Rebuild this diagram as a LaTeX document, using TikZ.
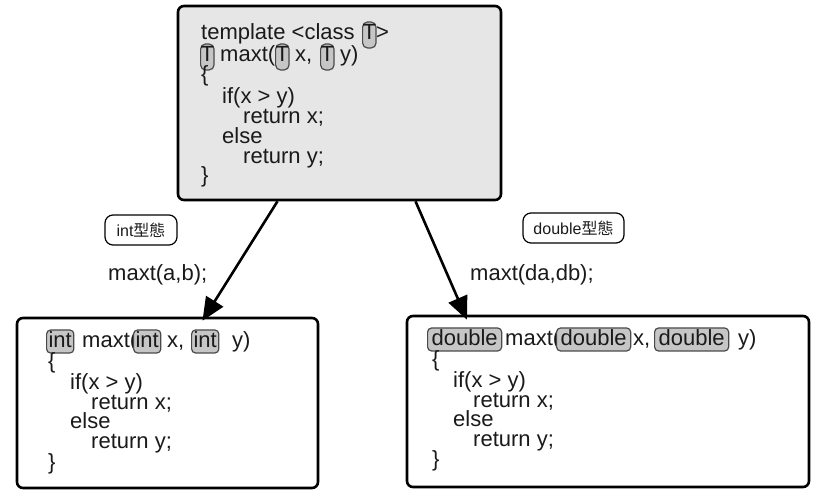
\documentclass[tikz,border=0pt]{standalone}
\usepackage{fontspec}
\setmainfont{Liberation Sans}
\newfontfamily\cjk{Noto Sans CJK TC}
\usepackage{tikz}
\usetikzlibrary{arrows.meta}
\definecolor{panelgray}{HTML}{E6E6E6}
\definecolor{tokgray}{HTML}{C6C6C6}
\definecolor{tokline}{HTML}{4A4A4A}
\definecolor{ink}{HTML}{1A1A1A}
\newcommand{\codefont}{\fontsize{22}{22}\selectfont}
\newcommand{\tagfont}{\fontsize{16}{16}\selectfont}

\begin{document}
\begin{tikzpicture}[x=1pt,y=-1pt,
   panel/.style={draw, line width=2.6pt, rounded corners=6pt, inner sep=0pt},
   code/.style={anchor=base west, inner sep=0pt, text=ink, font=\codefont},
   tybox/.style={code, draw=tokline, fill=tokgray, line width=1.2pt, rounded corners=4pt,
                 inner ysep=2pt, text height=16pt, text depth=3pt},
   tallbox/.style={tybox, inner xsep=0pt, rounded corners=5pt, text depth=6pt},
   tag/.style={draw, line width=1.2pt, rounded corners=8pt, font=\tagfont, text=ink,
               minimum height=30pt, inner xsep=0pt},
   flow/.style={line width=2.6pt, -{Triangle[length=23pt,width=20pt]}}]
         \useasboundingbox (0,0) rectangle (817,502);

         \node[panel, fill=panelgray, minimum width=323pt, minimum height=194pt] (tmpl) at (339.5,103) {};
         \node[panel, fill=white, minimum width=301pt, minimum height=170pt] (intp) at (167.5,403) {};
         \node[panel, fill=white, minimum width=402pt, minimum height=171pt] (dblp) at (608,401.5) {};

         \node[code] (t1) at (201,40) {template <class};
         \node[tallbox] (tT1) at (362,40) {T};
         \node[code] (t1b) at (376,40) {>};
         \node[tallbox] (tT2) at (200,62) {T};
         \node[code] (t2a) at (220,62) {maxt(};
         \node[tallbox] (tT3) at (275,62) {T};
         \node[code] (t2b) at (295,62) {x,};
         \node[tallbox] (tT4) at (320,62) {T};
         \node[code] (t2c) at (340,62) {y)};
         \node[code] (t3) at (201,82) {\{};
         \node[code] (t4) at (222,104) {if(x > y)};
         \node[code] (t5) at (243,124) {return x;};
         \node[code] (t6) at (222,144) {else};
         \node[code] (t7) at (243,164) {return y;};
         \node[code] (t8) at (201,183) {\}};

         \node[tybox, inner xsep=2pt] (iT1) at (46,348) {int};
         \node[code] (i1a) at (82,348) {maxt(};
         \node[tybox, inner xsep=2pt] (iT2) at (133,348) {int};
         \node[code] (i1b) at (167,348) {x,};
         \node[tybox, inner xsep=2pt] (iT3) at (191,348) {int};
         \node[code] (i1c) at (232,348) {y)};
         \node[code] (i2) at (48,369) {\{};
         \node[code] (i3) at (70,390) {if(x > y)};
         \node[code] (i4) at (91,410) {return x;};
         \node[code] (i5) at (70,429) {else};
         \node[code] (i6) at (91,449) {return y;};
         \node[code] (i7) at (48,470) {\}};

         \node[tybox, inner xsep=4pt] (dT1) at (427,346) {double};
         \node[code] (d1a) at (505,346) {maxt(};
         \node[tybox, inner xsep=4pt] (dT2) at (556,346) {double};
         \node[code] (d1b) at (633,346) {x,};
         \node[tybox, inner xsep=4pt] (dT3) at (654,346) {double};
         \node[code] (d1c) at (738,346) {y)};
         \node[code] (d2) at (432,367) {\{};
         \node[code] (d3) at (453,388) {if(x > y)};
         \node[code] (d4) at (473,408) {return x;};
         \node[code] (d5) at (453,427) {else};
         \node[code] (d6) at (473,447) {return y;};
         \node[code] (d7) at (432,467) {\}};

         \node[tag, minimum width=72pt] (inttag) at (141,230) {int{\cjk 型態}};
         \node[tag, minimum width=101pt] (dbltag) at (573.5,228) {double{\cjk 型態}};
         \node[code] (intcall) at (108,281) {maxt(a,b);};
         \node[code] (dblcall) at (470,281) {maxt(da,db);};

         \draw[flow] ([xshift=-62pt]tmpl.south) -- ([xshift=35pt,yshift=-4pt]intp.north);
         \draw[flow] ([xshift=76pt]tmpl.south) -- ([xshift=-141pt,yshift=-5pt]dblp.north);
      \end{tikzpicture}
\end{document}
